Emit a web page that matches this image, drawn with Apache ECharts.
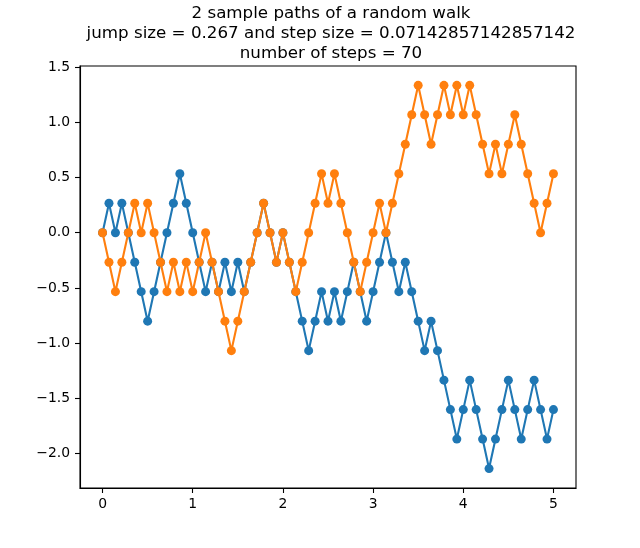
<!DOCTYPE html>
<html>
<head>
<meta charset="utf-8">
<title>random walk</title>
<script src="https://cdn.jsdelivr.net/npm/echarts@6.0.0/dist/echarts.min.js"></script>
<style>
  html, body { margin: 0; padding: 0; background: #fff; }
  #chart { width: 640px; height: 548px; }
</style>
</head>
<body>
<div id="chart"></div>
<script>
// walk parameters, from the title
const JUMP_SIZE = 0.267;
const STEP_SIZE = 0.07142857142857142;
const N_STEPS = 70;

// levels, in jumps (value = level * JUMP_SIZE)
const blueLevels = [
  0, 1, 0, 1, 0, -1, -2, -3, -2, -1,
  0, 1, 2, 1, 0, -1, -2, -1, -2, -1,
  -2, -1, -2, -1, 0, 1, 0, -1, 0, -1,
  -2, -3, -4, -3, -2, -3, -2, -3, -2, -1,
  -2, -3, -2, -1, 0, -1, -2, -1, -2, -3,
  -4, -3, -4, -5, -6, -7, -6, -5, -6, -7,
  -8, -7, -6, -5, -6, -7, -6, -5, -6, -7,
  -6
];
const orangeLevels = [
  0, -1, -2, -1, 0, 1, 0, 1, 0, -1,
  -2, -1, -2, -1, -2, -1, 0, -1, -2, -3,
  -4, -3, -2, -1, 0, 1, 0, -1, 0, -1,
  -2, -1, 0, 1, 2, 1, 2, 1, 0, -1,
  -2, -1, 0, 1, 0, 1, 2, 3, 4, 5,
  4, 3, 4, 5, 4, 5, 4, 5, 4, 3,
  2, 3, 2, 3, 4, 3, 2, 1, 0, 1,
  2
];

const xTicks = [0, 1, 2, 3, 4, 5];
const yTicks = [-2.0, -1.5, -1.0, -0.5, 0.0, 0.5, 1.0, 1.5];
const colors = ['#1f77b4', '#ff7f0e'];

const titleText = '2 sample paths of a random walk\n' +
  'jump size = ' + JUMP_SIZE + ' and step size = ' + STEP_SIZE + '\n' +
  'number of steps = ' + N_STEPS;

const toPoints = (levels) => levels.map((n, i) => [i * STEP_SIZE, n * JUMP_SIZE]);

const chart = echarts.init(document.getElementById('chart'), null, { renderer: 'canvas' });

const option = {
  animation: false,
  textStyle: { fontFamily: 'DejaVu Sans' },
  title: {
    text: titleText,
    left: 326,
    top: -1,
    textAlign: 'center',
    textStyle: {
      fontFamily: 'DejaVu Sans',
      fontSize: 16.7,
      fontWeight: 'normal',
      lineHeight: 20,
      color: '#000'
    }
  },
  grid: {
    left: 80,
    right: 64,
    top: 66,
    bottom: 60,
    show: true,
    borderColor: '#000',
    borderWidth: 1.1,
    containLabel: false
  },
  xAxis: {
    type: 'value',
    min: -0.25,
    max: 5.25,
    axisLine: { show: true, onZero: false, lineStyle: { color: '#000', width: 1.1 } },
    axisTick: { show: true, length: 5, customValues: xTicks, lineStyle: { color: '#000', width: 1.1 } },
    axisLabel: {
      customValues: xTicks,
      margin: 9,
      fontSize: 13.9,
      color: '#000',
      fontFamily: 'DejaVu Sans',
      formatter: (v) => String(v)
    },
    splitLine: { show: false }
  },
  yAxis: {
    type: 'value',
    min: -2.312,
    max: 1.51,
    axisLine: { show: true, onZero: false, lineStyle: { color: '#000', width: 1.1 } },
    axisTick: { show: true, length: 5, customValues: yTicks, lineStyle: { color: '#000', width: 1.1 } },
    axisLabel: {
      customValues: yTicks,
      margin: 10,
      fontSize: 13.9,
      color: '#000',
      fontFamily: 'DejaVu Sans',
      formatter: (v) => v.toFixed(1).replace('-', '\u2212')
    },
    splitLine: { show: false }
  },
  series: [
    {
      type: 'line',
      z: 2,
      data: toPoints(blueLevels),
      symbol: 'circle',
      symbolSize: 9,
      showSymbol: true,
      color: colors[0],
      lineStyle: { width: 2.1, color: colors[0] },
      itemStyle: { color: colors[0] }
    },
    {
      type: 'line',
      z: 3,
      data: toPoints(orangeLevels),
      symbol: 'circle',
      symbolSize: 9,
      showSymbol: true,
      color: colors[1],
      lineStyle: { width: 2.1, color: colors[1] },
      itemStyle: { color: colors[1] }
    }
  ]
};

chart.setOption(option);
</script>
</body>
</html>
